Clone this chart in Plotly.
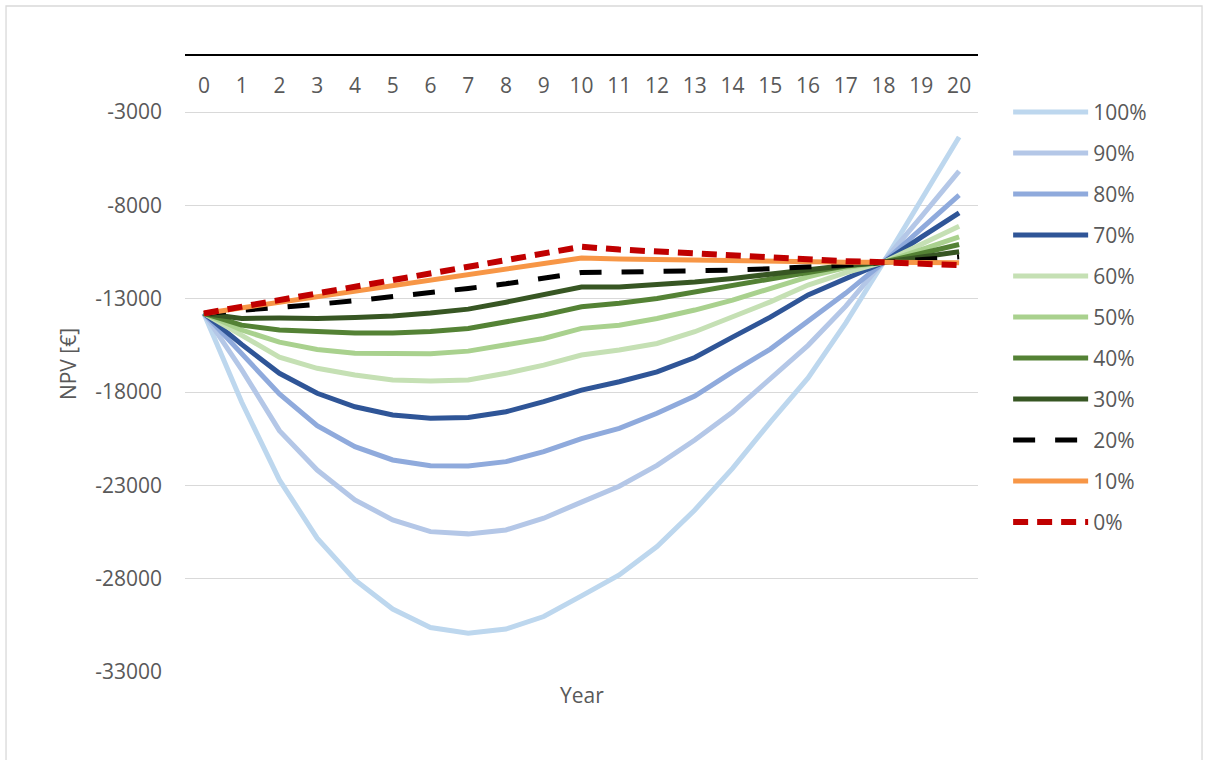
import plotly.graph_objects as go

# Project years on the horizontal axis
years = list(range(0, 21))

# NPV [€] per share level, one list per scenario
npv_100 = [-13790, -18540, -22710, -25830, -28070, -29630, -30620, -30920, -30700, -30030,
           -28920, -27800, -26280, -24320, -22090, -19610, -17250, -14300, -11050, -7700, -4335]
npv_90 = [-13790, -16800, -20070, -22180, -23780, -24850, -25480, -25600, -25390, -24760,
          -23900, -23050, -21930, -20570, -19070, -17250, -15500, -13400, -11050, -8600, -6172]
npv_80 = [-13790, -15950, -18100, -19800, -20930, -21640, -21950, -21960, -21730, -21200,
          -20500, -19950, -19140, -18220, -16920, -15700, -14190, -12700, -11050, -9250, -7457]
npv_70 = [-13790, -15450, -17000, -18070, -18790, -19230, -19410, -19360, -19060, -18520,
          -17900, -17450, -16920, -16150, -15060, -13990, -12800, -11900, -11050, -9700, -8404]
npv_60 = [-13790, -14950, -16130, -16730, -17090, -17360, -17410, -17360, -17000, -16560,
          -16020, -15750, -15400, -14770, -13970, -13170, -12270, -11600, -11050, -10080, -9116]
npv_50 = [-13790, -14680, -15330, -15720, -15930, -15970, -15950, -15810, -15490, -15130,
          -14590, -14420, -14060, -13610, -13080, -12450, -11830, -11330, -11050, -10370, -9689]
npv_40 = [-13790, -14420, -14680, -14770, -14840, -14840, -14760, -14600, -14260, -13880,
          -13430, -13250, -12990, -12630, -12270, -11920, -11560, -11250, -11050, -10570, -10096]
npv_30 = [-13790, -14060, -14040, -14060, -14010, -13930, -13770, -13560, -13190, -12760,
          -12380, -12370, -12270, -12110, -11920, -11690, -11430, -11220, -11050, -10770, -10492]
npv_20 = [-13790, -13640, -13480, -13300, -13110, -12900, -12680, -12450, -12200, -11920,
          -11600, -11580, -11560, -11520, -11470, -11400, -11320, -11200, -11050, -10900, -10760]
npv_10 = [-13790, -13490, -13190, -12890, -12590, -12290, -11990, -11690, -11390, -11100,
          -10820, -10870, -10910, -10950, -10990, -11020, -11040, -11050, -11050, -11070, -11080]
npv_0 = [-13790, -13430, -13070, -12720, -12360, -12000, -11650, -11290, -10940, -10580,
         -10220, -10370, -10480, -10590, -10700, -10800, -10900, -10990, -11050, -11140, -11204]

series_names = ["100%", "90%", "80%", "70%", "60%", "50%", "40%", "30%", "20%", "10%", "0%"]
series_values = [npv_100, npv_90, npv_80, npv_70, npv_60, npv_50, npv_40, npv_30, npv_20, npv_10, npv_0]

y_ticks = [-33000, -28000, -23000, -18000, -13000, -8000, -3000]

# Line styling for each scenario
styles = [
    dict(color="#BDD7EE", width=5, dash="solid"),
    dict(color="#B4C7E7", width=5, dash="solid"),
    dict(color="#8FAADC", width=5, dash="solid"),
    dict(color="#2F5597", width=5, dash="solid"),
    dict(color="#C5E0B4", width=5, dash="solid"),
    dict(color="#A9D18E", width=5, dash="solid"),
    dict(color="#548235", width=5, dash="solid"),
    dict(color="#375623", width=5, dash="solid"),
    dict(color="#000000", width=5, dash="22px,20px"),
    dict(color="#F79646", width=5, dash="solid"),
    dict(color="#C00000", width=6, dash="15px,9px"),
]

FONT = "Open Sans"
GREY = "#595959"
FS = 21

fig = go.Figure()
for i, (name, vals, st) in enumerate(zip(series_names, series_values, styles)):
    fig.add_trace(go.Scatter(
        x=years, y=vals, name=name, mode="lines",
        line=dict(color=st["color"], width=st["width"], dash=st["dash"]),
        legendgroup=f"g{i}",
    ))

fig.update_layout(
    width=1208, height=760,
    margin=dict(l=185, r=230, t=56, b=88),
    paper_bgcolor="white", plot_bgcolor="white",
    font=dict(family=FONT, size=FS, color=GREY),
    showlegend=True,
    legend=dict(
        x=1.038, y=0.942, xanchor="left", yanchor="top",
        font=dict(family=FONT, size=FS, color=GREY),
        itemwidth=75, tracegroupgap=10.7, traceorder="grouped",
        bgcolor="rgba(0,0,0,0)",
    ),
    xaxis=dict(
        range=[-0.5, 20.5], tickmode="array", tickvals=years,
        ticktext=[str(y) for y in years],
        side="top", ticklabelposition="inside",
        ticks="inside", ticklen=24, tickcolor="rgba(0,0,0,0)",
        showline=True, linecolor="#000000", linewidth=2,
        showgrid=False, zeroline=False,
        tickfont=dict(family=FONT, size=FS, color=GREY),
    ),
    yaxis=dict(
        range=[-33000, 0], tickmode="array", tickvals=y_ticks,
        ticktext=[str(v) for v in y_ticks],
        showgrid=True, gridcolor="#D9D9D9", gridwidth=1.3,
        zeroline=False, showline=False, ticks="",
        ticklabelstandoff=22,
        tickfont=dict(family=FONT, size=FS, color=GREY),
        title=dict(text="NPV [€]", standoff=12,
                   font=dict(family=FONT, size=FS, color=GREY)),
    ),
    annotations=[dict(
        text="Year", xref="paper", yref="paper", x=0.5, y=-0.012,
        xanchor="center", yanchor="top", showarrow=False,
        font=dict(family=FONT, size=FS, color=GREY),
    )],
    shapes=[dict(
        type="rect", xref="paper", yref="paper",
        x0=-0.2257, x1=1.2825, y0=-0.2, y1=1.0812,
        line=dict(color="#D9D9D9", width=1.3), fillcolor="rgba(0,0,0,0)",
        layer="below",
    )],
)

fig.write_html("out.html")
